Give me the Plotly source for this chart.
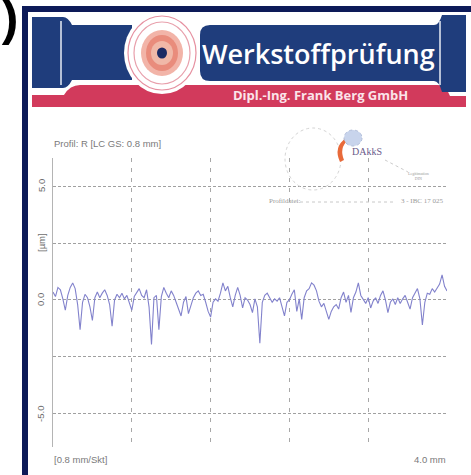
import plotly.graph_objects as go

# ---------------- data ----------------
SAMPLE_STEP_MM = 0.025
profile_um = [
    0.35, 0.15, 0.55, 0.45, 0.05, -0.45, 0.2, 0.55, 0.75, 0.5,
    -0.2, -1.3, -0.1, 0.25, 0.1, -0.3, -0.9, 0.1, 0.35, 0.1,
    0.3, 0.45, 0.2, -0.2, -1.15, 0.0, 0.25, 0.1, 0.3, 0.05,
    0.2, -0.1, -0.45, 0.15, 0.3, 0.5, 0.2, 0.1, 0.45, -0.3,
    -1.95, 0.1, 0.2, -1.3, 0.15, 0.55, 0.3, 0.1, 0.4, 0.2,
    -0.1, -0.4, -0.7, -0.1, 0.15, -0.6, -0.2, 0.1, 0.3, 0.4,
    0.2, 0.25, -0.1, -0.5, -0.75, -0.1, 0.05, -0.05, 0.3, 0.75,
    0.4, 0.6, 0.1, -0.3, 0.2, 0.55, 0.2, -0.35, 0.1, 0.0,
    -0.2, -0.55, 0.05, -0.3, -1.9, -0.1, 0.2, 0.3, 0.1, -0.1,
    0.05, -0.05, 0.1, -0.3, -0.7, -0.1, 0.0, 0.25, 0.45, -0.5,
    0.05, -0.85, 0.1, 0.4, 0.5, 0.75, 0.65, 0.4, -0.05, -0.3,
    -0.15, -0.5, -0.85, -0.5, -0.3, -0.2, -0.4, 0.1, 0.35, -0.1,
    0.2, -0.55, 0.1, 0.35, 0.75, 0.2, 0.05, -0.15, 0.1, -0.35,
    -0.05, 0.1, -0.15, 0.2, 0.4, 0.0, -0.55, -0.1, 0.05, -0.2,
    0.1, -0.15, 0.05, 0.2, -0.1, -0.4, 0.1, 0.3, 0.5, 0.05,
    -1.1, -0.1, 0.3, 0.25, 0.5, 0.35, 0.55, 0.7, 1.1, 0.6,
    0.4,
]
profile_x_mm = [i * SAMPLE_STEP_MM for i in range(len(profile_um))]

x_grid_mm = [0.8, 1.6, 2.4, 3.2, 4.0]
y_grid_um = [-5.0, -2.5, 0.0, 2.5, 5.0]
y_labels = {5.0: "5.0", 2.5: "[µm]", 0.0: "0.0", -5.0: "-5.0"}

title_text = "Profil: R [LC GS: 0.8 mm]"
x_scale_text = "[0.8 mm/Skt]"
x_end_text = "4.0 mm"
header_main = "Werkstoffprüfung"
header_sub = "Dipl.-Ing. Frank Berg GmbH"

# ---------------- layout helpers (pixel -> paper) ----------------
FW, FH = 471, 475
L, R, T, B = 53, 447, 158, 447
W, H = R - L, B - T


def px(x):
    return (x - L) / W


def py(y):
    return (B - y) / H


def path(points_cmds):
    out = []
    for item in points_cmds:
        if isinstance(item, str):
            out.append(item)
        else:
            out.append(f"{px(item[0]):.5f},{py(item[1]):.5f}")
    return " ".join(out)


NAVY = "#0d1a58"
BLUE = "#1f3d7c"
RED = "#d23a5c"
GRAY = "#7a7a7a"
SANS = "Liberation Sans, Arial, sans-serif"

fig = go.Figure()
fig.add_trace(go.Scatter(
    x=profile_x_mm, y=profile_um, mode="lines",
    line=dict(color="#8282cc", width=1.1), hoverinfo="skip", showlegend=False,
))

shapes = []
# frame
shapes.append(dict(type="rect", xref="paper", yref="paper",
                   x0=px(22), x1=px(28), y0=py(476), y1=py(6),
                   fillcolor=NAVY, line=dict(width=0)))
shapes.append(dict(type="rect", xref="paper", yref="paper",
                   x0=px(22), x1=px(472), y0=py(12), y1=py(6),
                   fillcolor=NAVY, line=dict(width=0)))
# red band
shapes.append(dict(type="path", xref="paper", yref="paper",
                   path=path(["M", (32, 95), "L", (64, 95), "Q", (70, 85), (80, 85),
                              "L", (438, 85), "Q", (446, 85), (450, 96), "L", (466, 96),
                              "L", (466, 107), "L", (32, 107), "Z"]),
                   fillcolor=RED, line=dict(width=0)))
# blue left piece
shapes.append(dict(type="path", xref="paper", yref="paper",
                   path=path(["M", (32, 17), "L", (63, 17), "Q", (68, 17), (72, 25),
                              "L", (132, 25), "L", (132, 80), "L", (72, 80),
                              "Q", (68, 88), (63, 88), "L", (32, 88), "Z"]),
                   fillcolor=BLUE, line=dict(width=0)))
# blue main banner
shapes.append(dict(type="path", xref="paper", yref="paper",
                   path=path(["M", (210, 25), "L", (434, 25), "Q", (439, 25), (442, 15),
                              "L", (466, 15), "L", (466, 92), "L", (442, 92),
                              "Q", (439, 81), (434, 81), "L", (210, 81),
                              "Q", (200, 81), (200, 71), "L", (200, 35),
                              "Q", (200, 25), (210, 25), "Z"]),
                   fillcolor=BLUE, line=dict(width=0)))
# white separators in blue pieces
for xx in (61, 440):
    shapes.append(dict(type="line", xref="paper", yref="paper",
                       x0=px(xx), x1=px(xx), y0=py(21), y1=py(85),
                       line=dict(color="#e8ecf4", width=1.5)))
# target logo
cx, cy = 162, 53
rings = [
    (38, 41, "#ffffff", None),
    (34, 37, "#ffffff", "#e690a0"),
    (28, 31, "#ffffff", "#e8a0ac"),
    (21, 23, "#f2b4a8", None),
    (16, 18, "#e98c7c", None),
    (11, 12, "#f0b8a8", None),
    (5, 5.5, "#1b2a64", None),
]
for rx, ry, fill, edge in rings:
    shapes.append(dict(type="circle", xref="paper", yref="paper",
                       x0=px(cx - rx), x1=px(cx + rx), y0=py(cy + ry), y1=py(cy - ry),
                       fillcolor=fill,
                       line=dict(color=edge if edge else fill, width=1.2 if edge else 0)))
# faint stamp circle and leader lines
shapes.append(dict(type="circle", xref="paper", yref="paper",
                   x0=px(285), x1=px(341), y0=py(190), y1=py(128),
                   line=dict(color="#d4d4d4", width=1, dash="dot")))
shapes.append(dict(type="line", xref="paper", yref="paper",
                   x0=px(300), x1=px(396), y0=py(202), y1=py(202),
                   line=dict(color="#c8c8c8", width=1, dash="dot")))
shapes.append(dict(type="line", xref="paper", yref="paper",
                   x0=px(385), x1=px(408), y0=py(160), y1=py(172),
                   line=dict(color="#cccccc", width=1, dash="dot")))
# DAkkS colour mark
shapes.append(dict(type="path", xref="paper", yref="paper",
                   path=path(["M", (346, 138), "Q", (333, 147), (340, 162),
                              "L", (344, 160), "Q", (339, 148), (348, 140), "Z"]),
                   fillcolor="#e86a3a", line=dict(width=0)))
shapes.append(dict(type="circle", xref="paper", yref="paper",
                   x0=px(344), x1=px(362), y0=py(146), y1=py(130),
                   fillcolor="#c8d4ec", line=dict(color="#b0bcd8", width=1, dash="dot")))

annotations = []
annotations.append(dict(xref="paper", yref="paper", x=px(20), y=py(18),
                        xanchor="right", yanchor="middle", text="<b>2)</b>", showarrow=False,
                        font=dict(family=SANS, size=50, color="#000")))
annotations.append(dict(xref="paper", yref="paper", x=px(318), y=py(53),
                        xanchor="center", yanchor="middle", text=header_main, showarrow=False,
                        font=dict(family="Open Sans, sans-serif", size=27, color="#ffffff", weight=600)))
annotations.append(dict(xref="paper", yref="paper", x=px(320), y=py(95),
                        xanchor="center", yanchor="middle", text=header_sub, showarrow=False,
                        font=dict(family="Open Sans, sans-serif", size=13, color="#fbe4ea", weight="bold")))
annotations.append(dict(xref="paper", yref="paper", x=px(52), y=py(143),
                        xanchor="left", yanchor="middle", text=title_text, showarrow=False,
                        font=dict(family=SANS, size=9.5, color=GRAY)))
annotations.append(dict(xref="paper", yref="paper", x=px(52), y=py(459),
                        xanchor="left", yanchor="middle", text=x_scale_text, showarrow=False,
                        font=dict(family=SANS, size=9.5, color=GRAY)))
annotations.append(dict(xref="paper", yref="paper", x=px(448), y=py(459),
                        xanchor="right", yanchor="middle", text=x_end_text, showarrow=False,
                        font=dict(family=SANS, size=9.5, color=GRAY)))
for val, lab in y_labels.items():
    annotations.append(dict(xref="paper", yref="y", x=px(41), y=val,
                            xanchor="center", yanchor="middle", text=lab, showarrow=False,
                            textangle=-90,
                            font=dict(family=SANS, size=9.5, color="#6e6e6e")))
annotations.append(dict(xref="paper", yref="paper", x=px(350), y=py(152),
                        xanchor="left", yanchor="middle", text="DAkkS", showarrow=False,
                        font=dict(family="Liberation Serif, serif", size=10, color="#6a5a8a")))
annotations.append(dict(xref="paper", yref="paper", x=px(418), y=py(176),
                        xanchor="center", yanchor="middle", text="Legitimation<br>DIN", showarrow=False,
                        font=dict(family="Liberation Serif, serif", size=4, color="#9a9a9a")))
annotations.append(dict(xref="paper", yref="paper", x=px(267), y=py(201),
                        xanchor="left", yanchor="middle", text="Profildatei:", showarrow=False,
                        font=dict(family="Liberation Serif, serif", size=7, color="#9a9a9a")))
annotations.append(dict(xref="paper", yref="paper", x=px(446), y=py(201),
                        xanchor="right", yanchor="middle", text="3 - IBC 17 025", showarrow=False,
                        font=dict(family="Liberation Serif, serif", size=7, color="#9a9a9a")))

fig.update_layout(
    width=FW, height=FH, autosize=False,
    margin=dict(l=L, r=FW - R, t=T, b=FH - B, pad=0),
    paper_bgcolor="#ffffff", plot_bgcolor="#ffffff",
    shapes=shapes, annotations=annotations, showlegend=False,
    xaxis=dict(range=[0, 4.0], tickvals=x_grid_mm, showticklabels=False, ticks="",
               showgrid=True, gridcolor="#a8a8a8", gridwidth=1, griddash="4px,6px",
               zeroline=False, showline=False, fixedrange=True),
    yaxis=dict(range=[-6.45, 6.23], tickvals=y_grid_um, showticklabels=False, ticks="",
               showgrid=True, gridcolor="#a0a0a0", gridwidth=1, griddash="3px,2px",
               zeroline=False, showline=True, linecolor="#b4b4b4", linewidth=1,
               fixedrange=True),
)

fig.write_html(
    "out.html",
    config={"displayModeBar": False},
    post_script="document.body.style.margin='0';document.body.style.overflow='hidden';",
)
